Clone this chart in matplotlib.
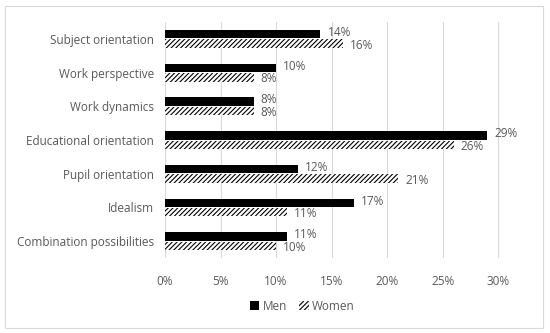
import matplotlib.pyplot as plt
import numpy as np
from matplotlib.patches import Rectangle

categories = ["Subject orientation", "Work perspective", "Work dynamics",
              "Educational orientation", "Pupil orientation", "Idealism",
              "Combination possibilities"]
men = [14, 10, 8, 29, 12, 17, 11]
women = [16, 8, 8, 26, 21, 11, 10]
xticks = [0, 5, 10, 15, 20, 25, 30]

grey = "#595959"
plt.rcParams["font.family"] = ["Open Sans", "DejaVu Sans"]
plt.rcParams["hatch.linewidth"] = 0.8

fig = plt.figure(figsize=(5.5, 3.33), dpi=100)
ax = fig.add_axes([0.3, 0.225, 0.636, 0.709])

y = np.arange(len(categories))
h = 0.25
ax.barh(y - h / 2 - 0.015, men, height=h, color="black", label="Men")
ax.barh(y + h / 2 + 0.015, women, height=h, color="white", edgecolor="black",
        hatch="///////", linewidth=0, label="Women")

# value labels, nudged apart so the pairs do not collide
for yi, v in zip(y, men):
    ax.annotate(f"{v}%", (v, yi - h / 2), xytext=(5, 1.5), textcoords="offset points",
                va="center", ha="left", fontsize=8.5, color=grey)
for yi, v in zip(y, women):
    ax.annotate(f"{v}%", (v, yi + h / 2), xytext=(5, -1.5), textcoords="offset points",
                va="center", ha="left", fontsize=8.5, color=grey)

ax.set_ylim(len(categories) - 0.5, -0.5)
ax.set_xlim(0, 31.5)
ax.set_xticks(xticks)
ax.set_xticklabels([f"{v}%" for v in xticks])
ax.set_yticks(y)
ax.set_yticklabels(categories)
ax.tick_params(length=0, colors=grey, labelsize=8.5)
ax.tick_params(axis="x", pad=12)
ax.tick_params(axis="y", pad=8)
ax.grid(axis="x", color="#d9d9d9", linewidth=0.8)
ax.set_axisbelow(True)
for s in ax.spines.values():
    s.set_visible(False)
ax.axvline(0, color="#d9d9d9", linewidth=0.8, zorder=0)

fig.legend(loc="center", bbox_to_anchor=(0.55, 0.08), ncol=2, frameon=False,
           fontsize=8.5, labelcolor=grey, handlelength=0.8, handleheight=0.8,
           handletextpad=0.3, columnspacing=1.0)

fig.patches.append(Rectangle((0.009, 0.015), 0.978, 0.968, transform=fig.transFigure,
                             fill=False, edgecolor="#d9d9d9", linewidth=0.8))

fig.savefig("out.png", dpi=100)
